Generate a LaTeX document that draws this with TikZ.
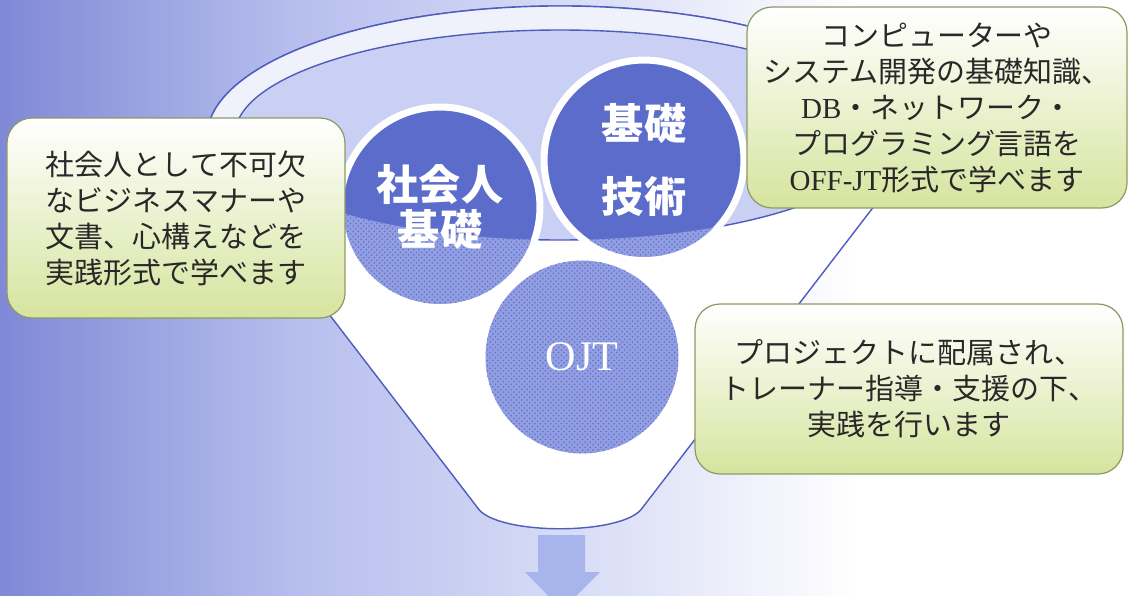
\documentclass[tikz,border=0pt]{standalone}
\usepackage{fontspec}
\newfontfamily\cjk{Noto Sans CJK JP}
\newfontfamily\lat{Liberation Serif}
\usetikzlibrary{patterns}
\definecolor{bgA}{RGB}{128,137,214}
\definecolor{bgB}{RGB}{182,190,237}
\definecolor{bgC}{RGB}{220,224,247}
\definecolor{rim}{RGB}{78,92,190}
\definecolor{ballblue}{RGB}{92,108,202}
\definecolor{hatchblue}{RGB}{146,158,226}
\definecolor{dotblue}{RGB}{98,112,204}
\definecolor{mouth}{RGB}{202,208,243}
\definecolor{ringwhite}{RGB}{240,242,251}
\definecolor{boxgreen}{RGB}{214,228,158}
\definecolor{boxedge}{RGB}{140,155,100}
\definecolor{txt}{RGB}{40,40,40}
\definecolor{arrowblue}{RGB}{168,180,236}
\pgfdeclarehorizontalshading{bgfade}{100bp}{color(0bp)=(bgA); color(25bp)=(bgA); color(38bp)=(bgB); color(52bp)=(bgC); color(63bp)=(white); color(100bp)=(white)}

\begin{document}
\begin{tikzpicture}[x=0.02cm, y=-0.02cm,
    infobox/.style={draw=boxedge, line width=0.7pt, rounded corners=0.5cm, top color=white, bottom color=boxgreen, text=txt, align=center, inner sep=0pt, font=\cjk\fontsize{16.5}{20.5}\selectfont},
    ball/.style={circle, fill=ballblue, draw=white, line width=4pt, minimum size=4cm, inner sep=0pt},
    balltext/.style={text=white, align=center, font=\cjk\bfseries\fontsize{24}{26}\selectfont},
    hatch/.style={fill=hatchblue, postaction={pattern=crosshatch dots, pattern color=dotblue}},
    rimline/.style={draw=rim, line width=0.8pt}]
    \useasboundingbox (0,0) rectangle (1131,595);
    \shade[shading=bgfade] (0,0) rectangle (1131,595);

    % funnel
    \path[fill=white, rimline] (220,172) arc[start angle=164.5, end angle=375.5, x radius=353, y radius=131]
        -- (643,507) .. controls (626,536) and (494,536) .. (477,507) -- cycle;
    \fill[ringwhite] (220,172) arc[start angle=164.5, end angle=375.5, x radius=353, y radius=131] -- cycle;
    \path[fill=mouth, rimline] (560,135) ellipse[x radius=325, y radius=105];
    \draw[rimline] (220,172) arc[start angle=164.5, end angle=375.5, x radius=353, y radius=131];

    \node[ball] (shakai) at (440,207) {};
    \node[ball] (kiso) at (644,160) {};
    \begin{scope}
        \clip (885,135) arc[start angle=0, end angle=180, x radius=325, y radius=105] -- (235,600) -- (885,600) -- cycle;
        \fill[hatch] (shakai.center) circle[radius=97];
        \fill[hatch] (kiso.center) circle[radius=97];
    \end{scope}
    \node[ball, hatch, draw=none, minimum size=3.86cm] (ojt) at (582,357) {};

    \node[balltext] (shakaiT) at (shakai) {社会人\\基礎};
    \node[balltext, font=\cjk\bfseries\fontsize{24}{41}\selectfont] (kisoT) at (kiso) {基礎\\技術};
    \node[balltext, font=\lat\fontsize{24}{26}\selectfont] (ojtT) at (ojt) {OJT};

    % boxes
    \node[infobox, minimum width=6.76cm, minimum height=4cm] (social) at (176,218)
        {社会人として不可欠\\なビジネスマナーや\\文書、心構えなどを\\実践形式で学べます};
    \node[infobox, minimum width=7.6cm, minimum height=4.02cm] (tech) at (937,107.5)
        {コンピューターや\\システム開発の基礎知識、\\{\lat DB}・ネットワーク・\\プログラミング言語を\\{\lat OFF-JT}形式で学べます};
    \node[infobox, minimum width=8.56cm, minimum height=3.4cm] (project) at (909,389)
        {プロジェクトに配属され、\\トレーナー指導・支援の下、\\実践を行います};

    \fill[arrowblue] (538,535) -- (585,535) -- (585,572) -- (600,572) -- (562,610) -- (525,572) -- (538,572) -- cycle;
\end{tikzpicture}
\end{document}
